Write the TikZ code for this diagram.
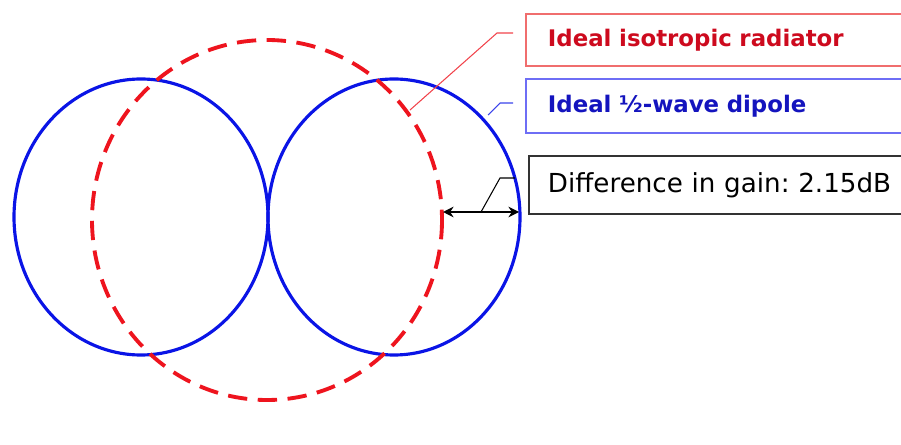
\documentclass[tikz,border=0pt]{standalone}
\usepackage{fontspec}
\setmainfont{DejaVu Sans}
\usetikzlibrary{arrows.meta,positioning,calc}
\frenchspacing
\definecolor{isored}{RGB}{238,20,30}
\definecolor{isotext}{RGB}{205,10,30}
\definecolor{isoframe}{RGB}{240,110,110}
\definecolor{dipblue}{RGB}{10,20,230}
\definecolor{diptext}{RGB}{20,20,190}
\definecolor{dipframe}{RGB}{110,110,245}
\tikzset{
  >=Stealth,
  lobe/.style={draw=dipblue, line width=1.8pt},
  iso/.style={draw=isored, line width=2.2pt, dash pattern=on 11pt off 6pt},
  lead/.style={line width=0.6pt},
  tag/.style={rectangle, draw, line width=1.1pt, anchor=north west, text width=7.6cm, align=left, inner xsep=0.44cm, inner ysep=0pt}
}

\begin{document}
\begin{tikzpicture}[x=0.02cm, y=-0.02cm]
  \useasboundingbox (0,0) rectangle (901,445);
  \clip (0,0) rectangle (901,445);
  % radiation patterns
  \draw[lobe] (141,217) ellipse [x radius=127, y radius=138];
  \draw[lobe] (394,217) ellipse [x radius=126, y radius=138];
  \draw[iso] (267,220) ellipse [x radius=175, y radius=180];
  % legend boxes
  \node[tag, draw=isoframe, text=isotext, minimum height=1.04cm,
        font=\bfseries\fontsize{13}{15}\selectfont] (isoTag) at (525,13) {Ideal isotropic radiator};
  \node[tag, draw=dipframe, text=diptext, minimum height=1.08cm,
        font=\bfseries\fontsize{13}{15}\selectfont] (dipTag) at (525,78) {Ideal ½-wave dipole};
  \node[tag, draw=black!80, inner xsep=0.38cm, minimum height=1.16cm,
        font=\fontsize{14.9}{17}\selectfont] (gainTag) at (528,155) {Difference in gain: 2.15dB};
  % leaders
  \coordinate (isoPt) at (410,110);
  \coordinate (isoKnee) at (497,33);
  \draw[lead, draw=isored!80] (isoPt) -- (isoKnee) -- ($(isoTag.west |- isoKnee)+(-12,0)$);
  \coordinate (dipPt) at (488,115);
  \coordinate (dipKnee) at (500,103);
  \draw[lead, draw=dipblue!80] (dipPt) -- (dipKnee) -- ($(dipTag.west |- dipKnee)+(-12,0)$);
  \coordinate (isoEdge) at (443,212);
  \coordinate (dipEdge) at (519,212);
  \draw[{Stealth[length=6pt,width=6pt]}-{Stealth[length=6pt,width=6pt]}, line width=1pt] (isoEdge) -- (dipEdge);
  \coordinate (gainKnee) at (500,178);
  \draw[lead] ($(isoEdge)!0.5!(dipEdge)$) -- (gainKnee) -- ($(gainTag.west |- gainKnee)+(-13,0)$);
\end{tikzpicture}
\end{document}
